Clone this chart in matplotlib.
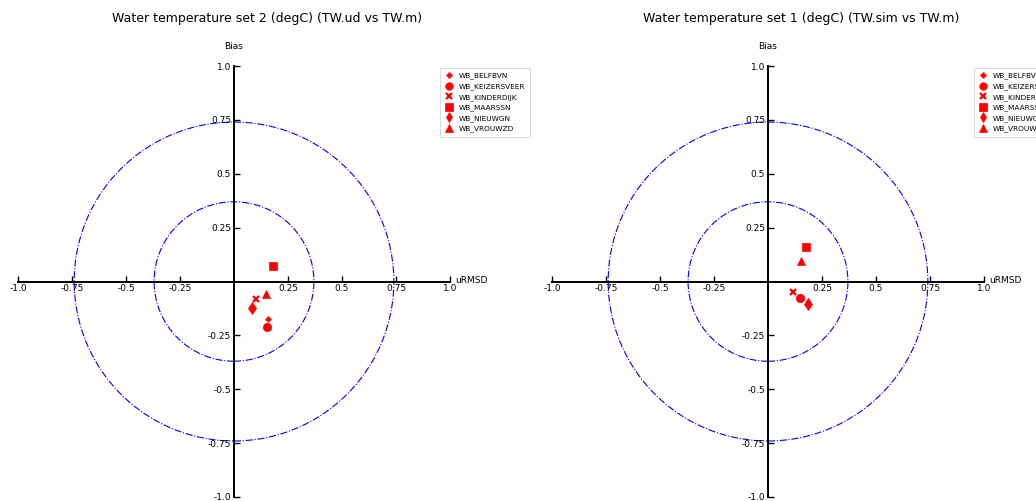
import matplotlib
matplotlib.use("Agg")
import matplotlib.pyplot as plt
from matplotlib.patches import Circle

stations = ["WB_BELFBVN", "WB_KEIZERSVEER", "WB_KINDERDIJK",
            "WB_MAARSSN", "WB_NIEUWGN", "WB_VROUWZD"]
markers = ["+", "o", "x", "s", "d", "^"]
msizes = [5, 6, 5, 6, 6, 6]
mews = [1.8, 0.5, 1.6, 0.5, 0.5, 0.5]

# set 2: TW.ud vs TW.m
urmsd_ud = [0.157, 0.155, 0.104, 0.181, 0.083, 0.147]
bias_ud = [-0.172, -0.213, -0.082, 0.070, -0.125, -0.059]
# set 1: TW.sim vs TW.m
urmsd_sim = [0.146, 0.149, 0.116, 0.178, 0.185, 0.152]
bias_sim = [-0.072, -0.076, -0.047, 0.158, -0.106, 0.093]

radii = [0.37, 0.74]
ticks = [-1.0, -0.75, -0.5, -0.25, 0.25, 0.5, 0.75, 1.0]
ticklabels = ["-1.0", "-0.75", "-0.5", "-0.25", "0.25", "0.5", "0.75", "1.0"]

titles = ["Water temperature set 2 (degC) (TW.ud vs TW.m)",
          "Water temperature set 1 (degC) (TW.sim vs TW.m)"]

fig = plt.figure(figsize=(10.36, 5.01), dpi=100)
ax1 = fig.add_axes([18/1036, 4/501, 432/1036, 431/501])
ax2 = fig.add_axes([552/1036, 4/501, 432/1036, 431/501])


def target(ax, x, y, title):
    for r in radii:
        ax.add_patch(Circle((0, 0), r, fill=False, ec="blue", ls="-.", lw=0.8))
    for i, name in enumerate(stations):
        ax.plot(x[i], y[i], ls="none", marker=markers[i], ms=msizes[i],
                mew=mews[i], color="red", mec="red", label=name)
    ax.set_xlim(-1, 1)
    ax.set_ylim(-1, 1)
    for s in ["top", "right"]:
        ax.spines[s].set_visible(False)
    for s in ["left", "bottom"]:
        ax.spines[s].set_position("zero")
        ax.spines[s].set_linewidth(1.4)
    ax.set_xticks(ticks)
    ax.set_xticklabels(ticklabels)
    ax.set_yticks(ticks)
    ax.set_yticklabels(ticklabels)
    ax.tick_params(direction="in", length=4, width=1, labelsize=6.5, pad=2)
    ax.patch.set_visible(False)
    ax.text(0.5, 1.046, "Bias", transform=ax.transAxes, ha="center",
            va="center", fontsize=6.5)
    ax.text(1.012, 0.503, "uRMSD", transform=ax.transAxes, ha="left",
            va="center", fontsize=6.5)
    ax.text(0.576, 1.111, title, transform=ax.transAxes, ha="center",
            va="center", fontsize=9)
    leg = ax.legend(loc="upper left", bbox_to_anchor=(0.977, 0.995),
                    fontsize=5.3, markerscale=0.9, fancybox=False,
                    borderaxespad=0, handlelength=1.2, labelspacing=0.5,
                    borderpad=0.6)
    leg.get_frame().set_edgecolor("#cccccc")
    leg.get_frame().set_linewidth(0.6)


target(ax1, urmsd_ud, bias_ud, titles[0])
target(ax2, urmsd_sim, bias_sim, titles[1])

fig.savefig("out.png", dpi=100)
